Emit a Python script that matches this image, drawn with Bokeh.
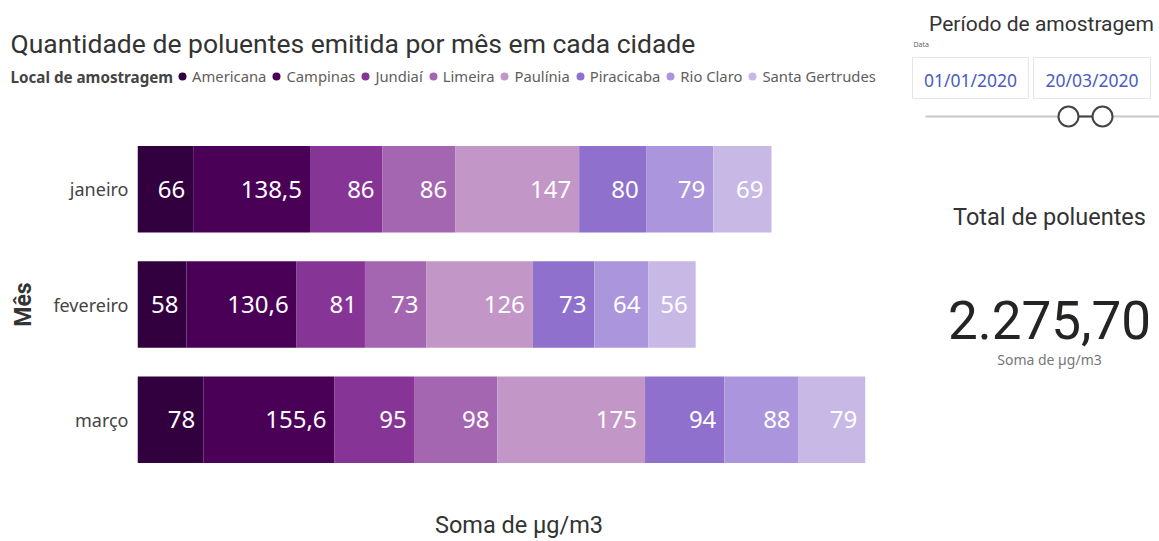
import numpy as np
import pandas as pd
from bokeh.plotting import figure
from bokeh.models import ColumnDataSource, FactorRange, Range1d, Legend, LegendItem
from bokeh.layouts import row, column
from bokeh.embed import file_html
from bokeh.resources import INLINE
from bokeh.core.properties import value

# ---------------- data ----------------
meses = ["janeiro", "fevereiro", "março"]
cidades = ["Americana", "Campinas", "Jundiaí", "Limeira", "Paulínia",
           "Piracicaba", "Rio Claro", "Santa Gertrudes"]
americana = [66, 58, 78]
campinas = [138.5, 130.6, 155.6]
jundiai = [86, 81, 95]
limeira = [86, 73, 98]
paulinia = [147, 126, 175]
piracicaba = [80, 73, 94]
rio_claro = [79, 64, 88]
santa_gertrudes = [69, 56, 79]
cores = ["#33003f", "#4b0058", "#863596", "#a466b1", "#c396c8",
         "#8f71cd", "#ab95dc", "#c8b8e6"]
periodo_inicio = "01/01/2020"
periodo_fim = "20/03/2020"

series = [americana, campinas, jundiai, limeira, paulinia, piracicaba, rio_claro, santa_gertrudes]

TITLE_FONT = "Roboto"
BODY_FONT = "Noto Sans"

data = {"mes": meses}
for c, s in zip(cidades, series):
    data[c] = s
source = ColumnDataSource(data)

def fmt(v):
    return f"{v:g}".replace(".", ",")

df = pd.DataFrame(data).set_index("mes")
ends = df[cidades].cumsum(axis=1)
lab = {"x": [], "y": [], "text": []}
for c in cidades:
    for m in meses:
        lab["x"].append(float(ends.loc[m, c]))
        lab["y"].append(m)
        lab["text"].append(fmt(df.loc[m, c]))
lab_src = ColumnDataSource(lab)

total = float(df[cidades].to_numpy().sum())
total_txt = f"{total:,.2f}".replace(",", "X").replace(".", ",").replace("X", ".")

def bare(fig):
    fig.outline_line_color = None
    fig.xgrid.visible = False
    fig.ygrid.visible = False
    return fig

# ---------------- header (title + legend) ----------------
h = bare(figure(width=900, height=131, x_range=Range1d(0, 900), y_range=Range1d(131, 0),
                x_axis_type=None, y_axis_type=None, output_backend="svg", toolbar_location=None,
                min_border_left=0, min_border_right=0, min_border_top=0, min_border_bottom=0,
                frame_align=False))
h.text(x=[10], y=[43], text=["Quantidade de poluentes emitida por mês em cada cidade"],
       text_align="left", text_baseline="middle", text_font=value(TITLE_FONT),
       text_font_size="26.5px", text_color="#333333")
h.text(x=[10], y=[76], text=["Local de amostragem"], text_align="left", text_baseline="middle",
       text_font=value(BODY_FONT), text_font_size="15.2px", text_font_style="bold",
       text_color="#444444")
# legend markers (single point placed outside the visible range; only their legend glyph shows)
dots = [h.scatter(x=[-1000], y=[-1000], marker="circle", size=9, color=c, line_color=None)
        for c in cores]
legend = Legend(items=[LegendItem(label=c, renderers=[r]) for c, r in zip(cidades, dots)],
                orientation="horizontal", location=(172, 45),
                label_text_font=BODY_FONT, label_text_font_size="14.8px",
                label_text_color="#605e5c", glyph_width=20, glyph_height=20, label_height=20,
                label_standoff=0, spacing=0, padding=0, margin=0,
                border_line_color=None, background_fill_alpha=0)
h.add_layout(legend)

# ---------------- main chart ----------------
p = bare(figure(width=900, height=410, y_range=FactorRange(factors=list(reversed(meses))),
                x_range=Range1d(0, 904.4), output_backend="svg", toolbar_location=None,
                min_border_left=137, min_border_right=0, min_border_top=0, min_border_bottom=62,
                frame_align=False))

p.hbar_stack(cidades, y="mes", height=0.75, color=cores, source=source, line_color=None)
p.text(x="x", y="y", text="text", source=lab_src, text_align="right", text_baseline="middle",
       x_offset=-8, text_color="white", text_font_size="24px", text_font=value(BODY_FONT))

ya = p.yaxis[0]
ya.axis_label = "Mês"
ya.axis_label_text_font = TITLE_FONT
ya.axis_label_text_font_size = "23px"
ya.axis_label_text_font_style = "bold"
ya.axis_label_text_color = "#333333"
ya.axis_label_standoff = 13
ya.axis_line_color = None
ya.major_tick_line_color = None
ya.major_tick_out = 0
ya.major_tick_in = 0
ya.major_label_standoff = 9
ya.major_label_text_font = BODY_FONT
ya.major_label_text_font_size = "18px"
ya.major_label_text_color = "#444444"

xa = p.xaxis[0]
xa.axis_label = "Soma de µg/m3"
xa.axis_label_text_font = TITLE_FONT
xa.axis_label_text_font_size = "23.5px"
xa.axis_label_text_font_style = "normal"
xa.axis_label_text_color = "#333333"
xa.axis_label_standoff = 29
xa.axis_line_color = None
xa.major_tick_line_color = None
xa.minor_tick_line_color = None
xa.major_tick_out = 0
xa.major_tick_in = 0
xa.major_label_standoff = 0
xa.major_label_text_font_size = "0px"
xa.major_label_text_color = None

# ---------------- right panel ----------------
q = bare(figure(width=259, height=541, x_range=Range1d(900, 1159), y_range=Range1d(541, 0),
                x_axis_type=None, y_axis_type=None, output_backend="svg", toolbar_location=None,
                min_border_left=0, min_border_right=0, min_border_top=0, min_border_bottom=0,
                frame_align=False))

q.text(x=[1041], y=[23], text=["Período de amostragem"], text_align="center", text_baseline="middle",
       text_font=value(TITLE_FONT), text_font_size="21px", text_color="#333333")
q.text(x=[913], y=[44], text=["Data"], text_align="left", text_baseline="middle",
       text_font=value(BODY_FONT), text_font_size="7px", text_color="#666666")
q.quad(left=[912, 1033], right=[1028, 1150], top=[57, 57], bottom=[98, 98],
       fill_color="white", line_color="#e6e6e6", line_width=1)
q.text(x=[970, 1091.5], y=[79, 79], text=[periodo_inicio, periodo_fim], text_align="center",
       text_baseline="middle", text_font=value(BODY_FONT), text_font_size="17.5px",
       text_color="#4a5cc0")
q.segment(x0=[925], y0=[116], x1=[1159], y1=[116], line_color="#c8c8c8", line_width=2)
q.segment(x0=[1068], y0=[116], x1=[1102], y1=[116], line_color="#444444", line_width=2)
q.scatter(x=[1068, 1102], y=[116, 116], marker="circle", size=20, fill_color="white",
          line_color="#444444", line_width=2)

q.text(x=[1049], y=[216], text=["Total de poluentes"], text_align="center", text_baseline="middle",
       text_font=value(TITLE_FONT), text_font_size="23.5px", text_color="#333333")
q.text(x=[1049], y=[319], text=[total_txt], text_align="center", text_baseline="middle",
       text_font=value(TITLE_FONT), text_font_size="53px", text_color="#252423")
q.text(x=[1049], y=[359], text=["Soma de µg/m3"], text_align="center", text_baseline="middle",
       text_font=value(BODY_FONT), text_font_size="14px", text_color="#777777")

layout = row(column(h, p, spacing=0), q, spacing=0)
open("out.html", "w").write(file_html(layout, INLINE))
